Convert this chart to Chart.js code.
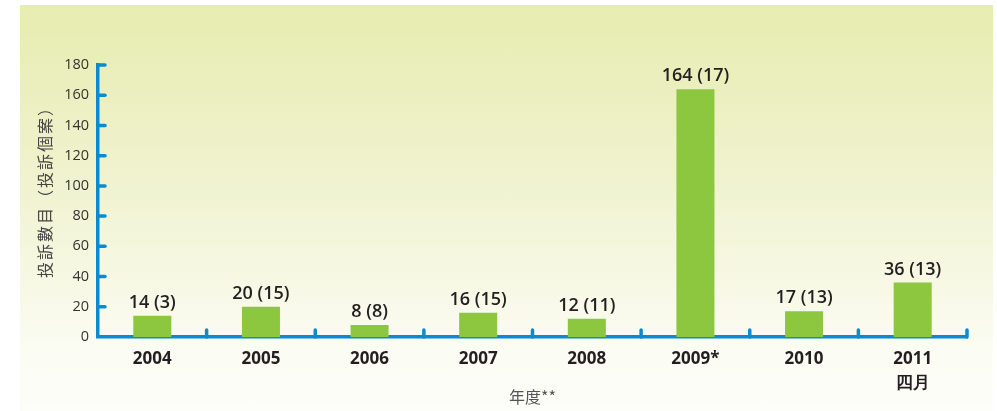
<!DOCTYPE html>
<html><head><meta charset="utf-8">
<script src="https://cdn.jsdelivr.net/npm/chart.js@4/dist/chart.umd.min.js"></script>
<style>
html,body{margin:0;padding:0;background:#fff;}
#wrap{position:absolute;left:20px;top:5px;width:973px;height:406px;background:linear-gradient(#e7ecb0,#f0f3d0 45%,#fbfcf3 85%,#fdfdf9);}
canvas{position:absolute;left:0;top:0;}
</style></head><body>
<div id="wrap"></div>
<canvas id="c" width="997" height="411"></canvas>
<script>
const categories = [["2004"],["2005"],["2006"],["2007"],["2008"],["2009*"],["2010"],["2011","四月"]];
const complaints = [14, 20, 8, 16, 12, 164, 17, 36];
const cases = [3, 15, 8, 15, 11, 17, 13, 13];
const yTicks = [0, 20, 40, 60, 80, 100, 120, 140, 160, 180];
const yTitle = "投訴數目（投訴個案）";
const xTitle = "年度**";

const AXIS = '#0a8ad2';

const decor = {
  id: 'decor',
  afterDatasetsDraw(chart) {
    const ctx = chart.ctx, x = chart.scales.x, y = chart.scales.y;
    ctx.save();
    ctx.strokeStyle = AXIS; ctx.lineWidth = 3.5; ctx.lineCap = 'round';
    yTicks.forEach(v => {
      const py = y.getPixelForValue(v);
      if (v === 0) return;
      ctx.beginPath(); ctx.moveTo(x.left, py); ctx.lineTo(x.left + 7, py); ctx.stroke();
    });
    const n = categories.length;
    const w = (x.right - x.left) / n;
    for (let i = 1; i <= n; i++) {
      const px = x.left + i * w;
      ctx.beginPath(); ctx.moveTo(px, y.bottom); ctx.lineTo(px, y.bottom - 7); ctx.stroke();
    }
    ctx.fillStyle = '#231f20';
    ctx.font = '600 18px "Open Sans"';
    ctx.textAlign = 'center'; ctx.textBaseline = 'alphabetic';
    const meta = chart.getDatasetMeta(0);
    meta.data.forEach((bar, i) => {
      ctx.fillText(complaints[i] + ' (' + cases[i] + ')', bar.x, bar.y - 8);
    });
    ctx.fillStyle = '#444';
    ctx.font = '16px "Noto Sans CJK TC"';
    ctx.letterSpacing = '2px';
    ctx.translate(45, 188);
    ctx.rotate(-Math.PI / 2);
    ctx.textBaseline = 'middle';
    ctx.fillText(yTitle, 0, 0);
    ctx.restore();
  }
};

new Chart(document.getElementById('c'), {
  type: 'bar',
  data: {
    labels: categories,
    datasets: [{ data: complaints, backgroundColor: '#8dc63f', barPercentage: 0.35, categoryPercentage: 1.0 }]
  },
  options: {
    responsive: false, animation: false,
    devicePixelRatio: 1,
    layout: { padding: { left: 20, right: 30, top: 65, bottom: 0 } },
    plugins: { legend: { display: false }, tooltip: { enabled: false } },
    scales: {
      x: {
        grid: { display: false, drawTicks: false },
        border: { color: AXIS, width: 3.5 },
        ticks: { color: '#231f20', font: { family: '"Open Sans"', weight: 'bold', size: 17, lineHeight: 1.4 }, padding: 10, autoSkip: false, maxRotation: 0 },
        title: { display: true, text: xTitle, color: '#555', font: { family: '"Noto Sans CJK TC"', size: 16 }, padding: { top: 0 } },
        afterFit(s) { s.height = 74; }
      },
      y: {
        min: 0, max: 180,
        afterBuildTicks(s) { s.ticks = yTicks.map(v => ({ value: v })); },
        grid: { display: false, drawTicks: false },
        border: { color: AXIS, width: 3.5 },
        ticks: { color: '#333', font: { family: '"Open Sans"', size: 14.5 }, padding: 9 },
        afterFit(s) { s.width = 78; }
      }
    }
  },
  plugins: [decor]
});
</script>
</body></html>
